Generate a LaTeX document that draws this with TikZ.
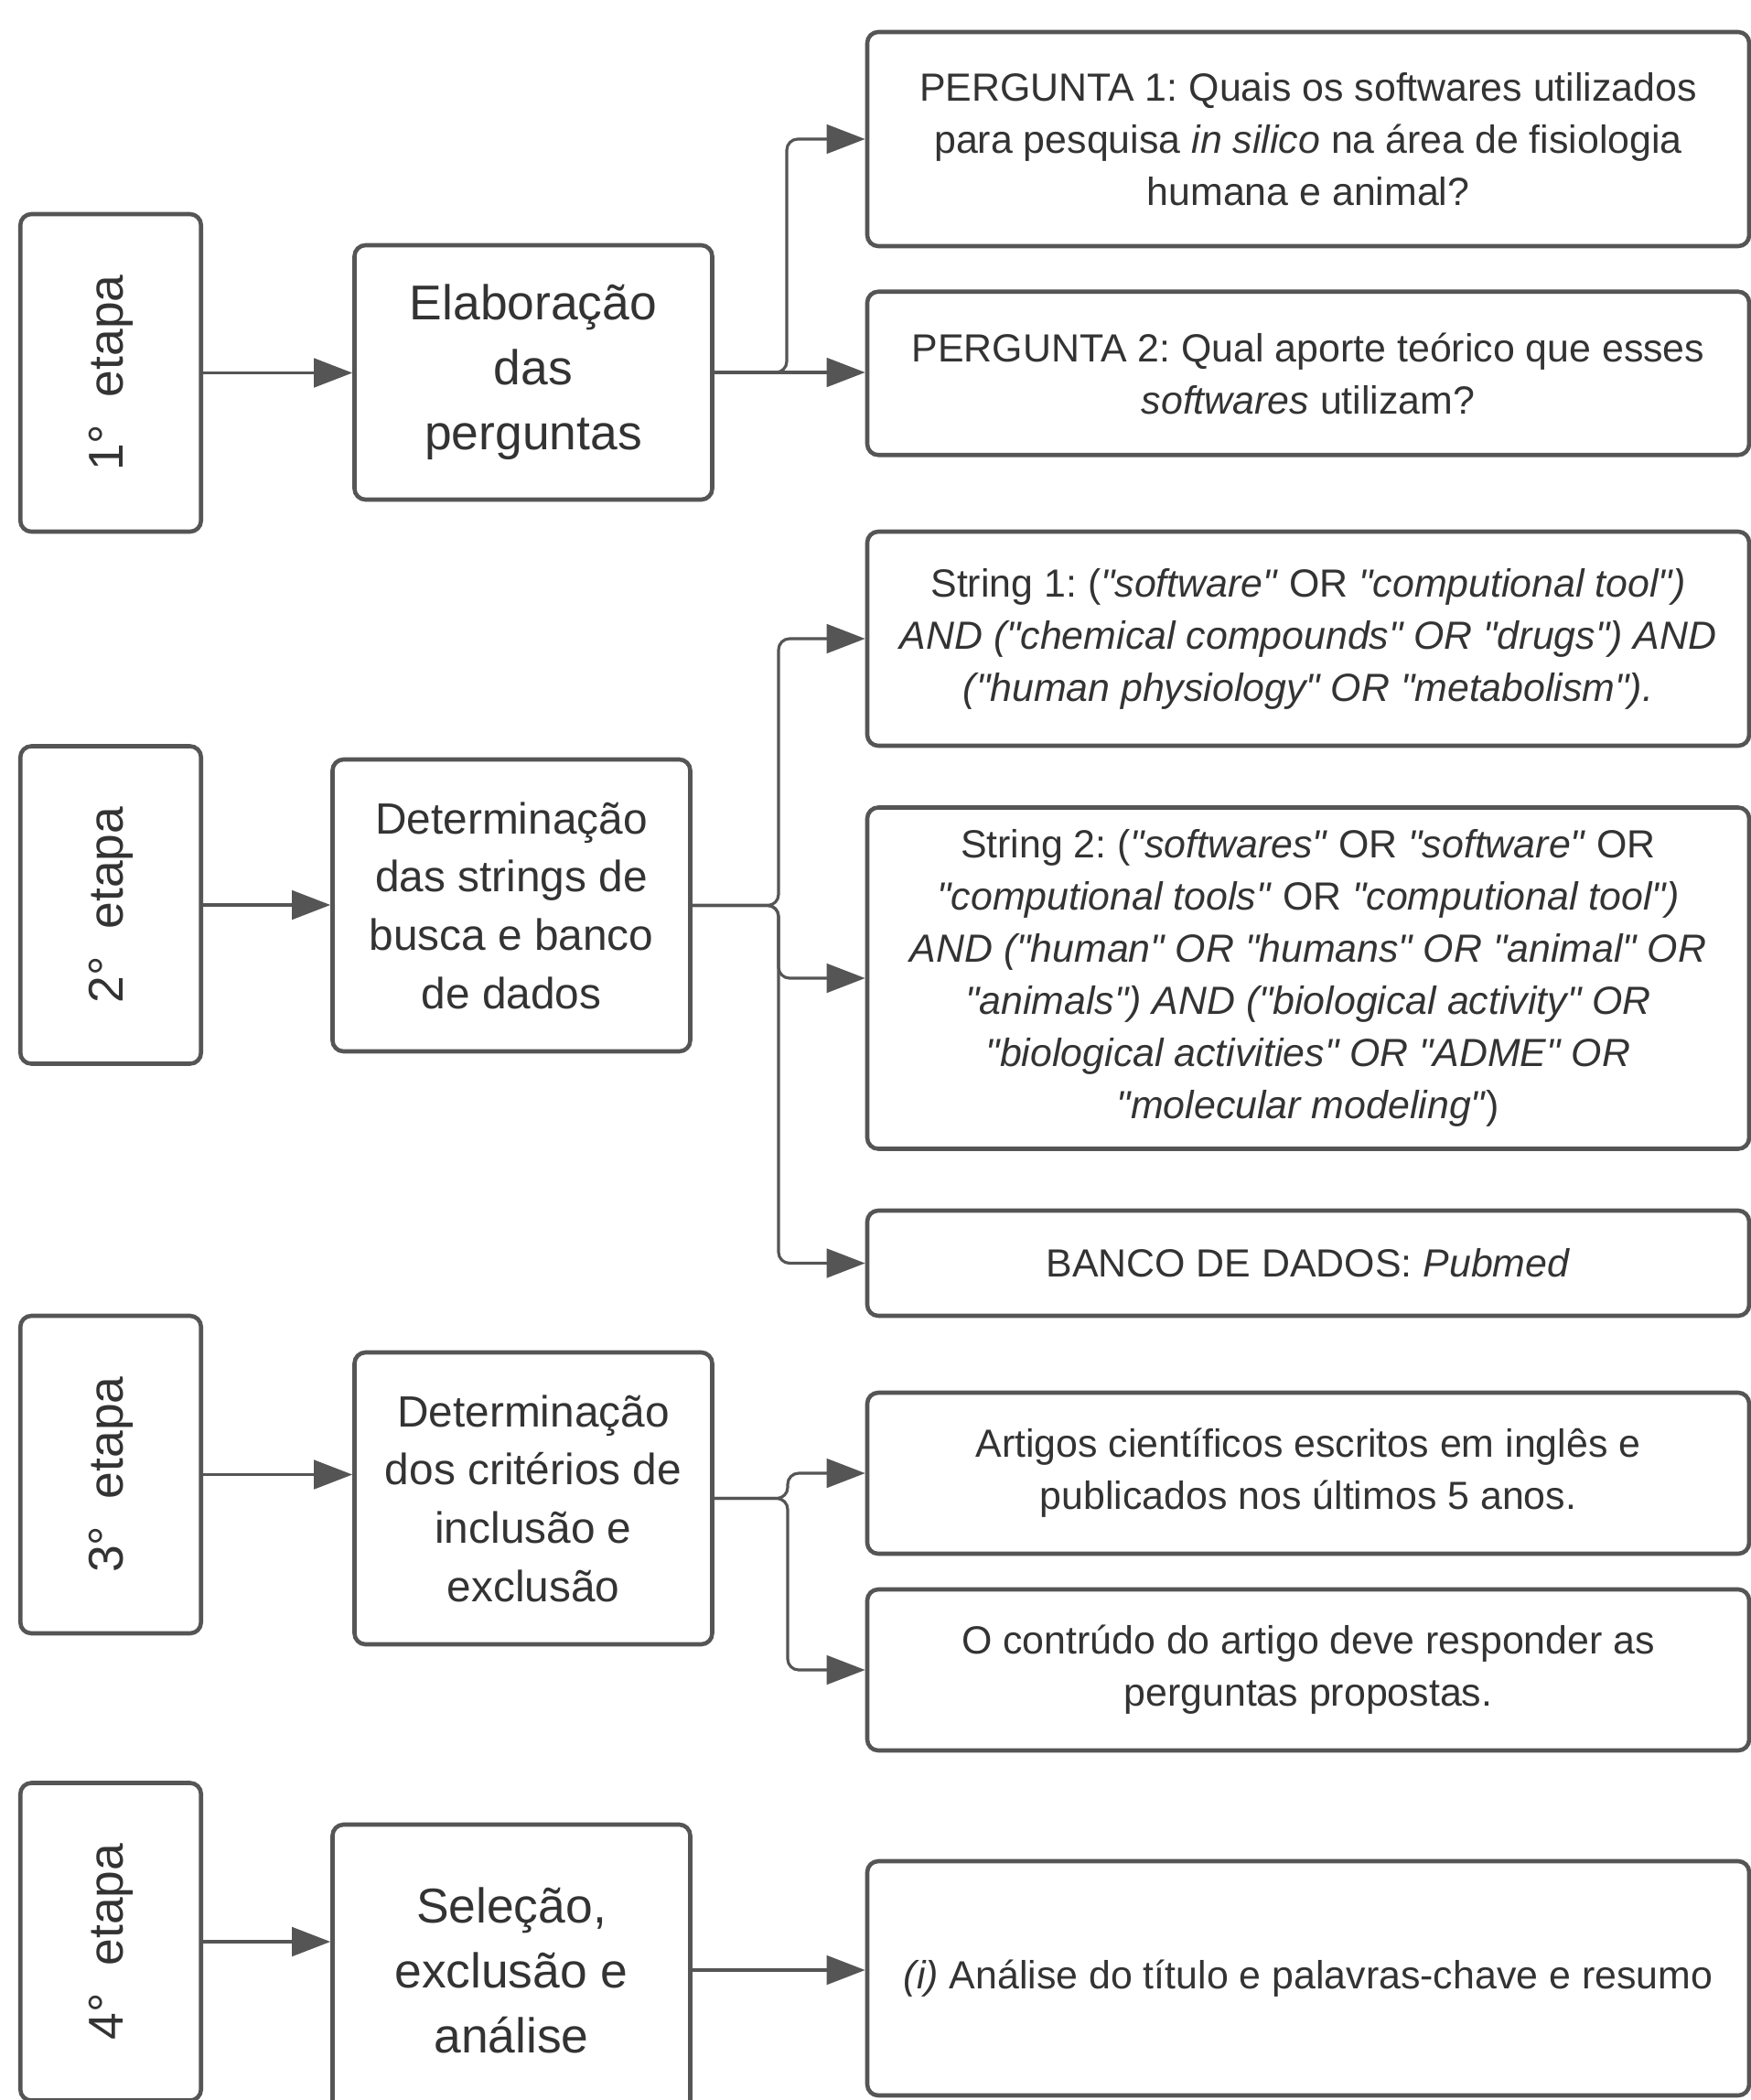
\documentclass[tikz,border=0pt]{standalone}
\usepackage{fontspec}
\setmainfont{Liberation Sans}
\usetikzlibrary{arrows.meta}
\frenchspacing

\definecolor{borda}{HTML}{555555}
\definecolor{texto}{HTML}{333333}

% aspas retas
\newcommand{\aspa}{\textquotedbl}

\begin{document}
\begin{tikzpicture}[
    caixa/.style={draw=borda, line width=1.3pt, rounded corners=0.12cm, fill=white, text=texto, align=center, inner sep=0pt},
    etapa/.style={caixa, minimum width=1.975cm, minimum height=3.47cm, font=\fontsize{15.2}{20.2}\selectfont},
    passo/.style={caixa, minimum width=3.91cm},
    grande/.style={font=\fontsize{15.2}{20.2}\selectfont},
    medio/.style={font=\fontsize{13.6}{18.1}\selectfont},
    item/.style={caixa, minimum width=9.64cm, font=\fontsize{12.2}{16.2}\selectfont},
    seta/.style={draw=borda, line width=0.9pt, rounded corners=0.12cm, -{Triangle[length=12pt,width=9pt]}}
]
    % Area da figura
    \useasboundingbox (0,0) rectangle (19.14,-22.95);
    \clip (0,0) rectangle (19.14,-22.95);

    % Etapas (coluna da esquerda)
    \node[etapa] (e1) at (1.21,-4.075) {\rotatebox{90}{1°\ \ etapa}};
    \node[etapa] (e2) at (1.21,-9.89) {\rotatebox{90}{2°\ \ etapa}};
    \node[etapa] (e3) at (1.21,-16.115) {\rotatebox{90}{3°\ \ etapa}};
    \node[etapa] (e4) at (1.21,-21.22) {\rotatebox{90}{4°\ \ etapa}};

    % Passos (coluna do meio)
    \node[passo, grande, minimum height=2.78cm] (m1) at (5.83,-4.07) {Elaboração\\das\\perguntas};
    \node[passo, medio, minimum height=3.19cm] (m2) at (5.59,-9.895) {Determinação\\das strings de\\busca e banco\\de dados};
    \node[passo, medio, minimum height=3.19cm] (m3) at (5.83,-16.375) {Determinação\\dos critérios de\\inclusão e\\exclusão};
    \node[passo, grande, minimum height=3.18cm] (m4) at (5.59,-21.53) {Seleção,\\exclusão e\\análise};

    % Detalhes (coluna da direita)
    \node[item, minimum height=2.34cm] (p1) at (14.30,-1.52) {PERGUNTA 1: Quais os softwares utilizados\\para pesquisa \textit{in silico} na área de fisiologia\\humana e animal?};
    \node[item, minimum height=1.785cm] (p2) at (14.30,-4.08) {PERGUNTA 2: Qual aporte teórico que esses\\\textit{softwares} utilizam?};
    \node[item, minimum height=2.34cm] (s1) at (14.30,-6.98) {String 1: (\textit{\aspa software\aspa} OR \textit{\aspa computional tool\aspa)}\\\textit{AND (\aspa chemical compounds\aspa{} OR \aspa drugs\aspa) AND}\\\textit{(\aspa human physiology\aspa{} OR \aspa metabolism\aspa).}};
    \node[item, minimum height=3.73cm] (s2) at (14.30,-10.69) {String 2: (\textit{\aspa softwares\aspa} OR \textit{\aspa software\aspa} OR\\\textit{\aspa computional tools\aspa} OR \textit{\aspa computional tool\aspa)}\\\textit{AND (\aspa human\aspa{} OR \aspa humans\aspa{} OR \aspa animal\aspa{} OR}\\\textit{\aspa animals\aspa) AND (\aspa biological activity\aspa{} OR}\\\textit{\aspa biological activities\aspa{} OR \aspa ADME\aspa{} OR}\\\textit{\aspa molecular modeling\aspa})};
    \node[item, minimum height=1.15cm] (bd) at (14.30,-13.805) {BANCO DE DADOS: \textit{Pubmed}};
    \node[item, minimum height=1.76cm] (c1) at (14.30,-16.10) {Artigos científicos escritos em inglês e\\publicados nos últimos 5 anos.};
    \node[item, minimum height=1.76cm] (c2) at (14.30,-18.25) {O contrúdo do artigo deve responder as\\perguntas propostas.};
    \node[item, minimum height=2.56cm] (a1) at (14.30,-21.62) {\textit{(i)} Análise do título e palavras-chave e resumo};

    % Pontos de ramificacao
    \coordinate (r1) at (8.60,-4.07);
    \coordinate (r2) at (8.51,-9.895);
    \coordinate (r3) at (8.61,-16.375);

    % Setas etapa -> passo
    \draw[seta] (e1.east) -- (e1.east -| m1.west);
    \draw[seta] (e2.east) -- (e2.east -| m2.west);
    \draw[seta] (e3.east) -- (e3.east -| m3.west);
    \draw[seta] (e4.east) -- (e4.east -| m4.west);

    % Setas passo -> detalhes
    \draw[seta] (m1.east) -- (r1) |- (p1.west);
    \draw[seta] (m1.east) -- (m1.east -| p2.west);
    \draw[seta] (m2.east) -- (r2) |- (s1.west);
    \draw[seta] (m2.east) -- (r2) |- (s2.west);
    \draw[seta] (m2.east) -- (r2) |- (bd.west);
    \draw[seta] (m3.east) -- (r3) |- (c1.west);
    \draw[seta] (m3.east) -- (r3) |- (c2.west);
    \draw[seta] (m4.east) -- (m4.east -| a1.west);

\end{tikzpicture}
\end{document}
